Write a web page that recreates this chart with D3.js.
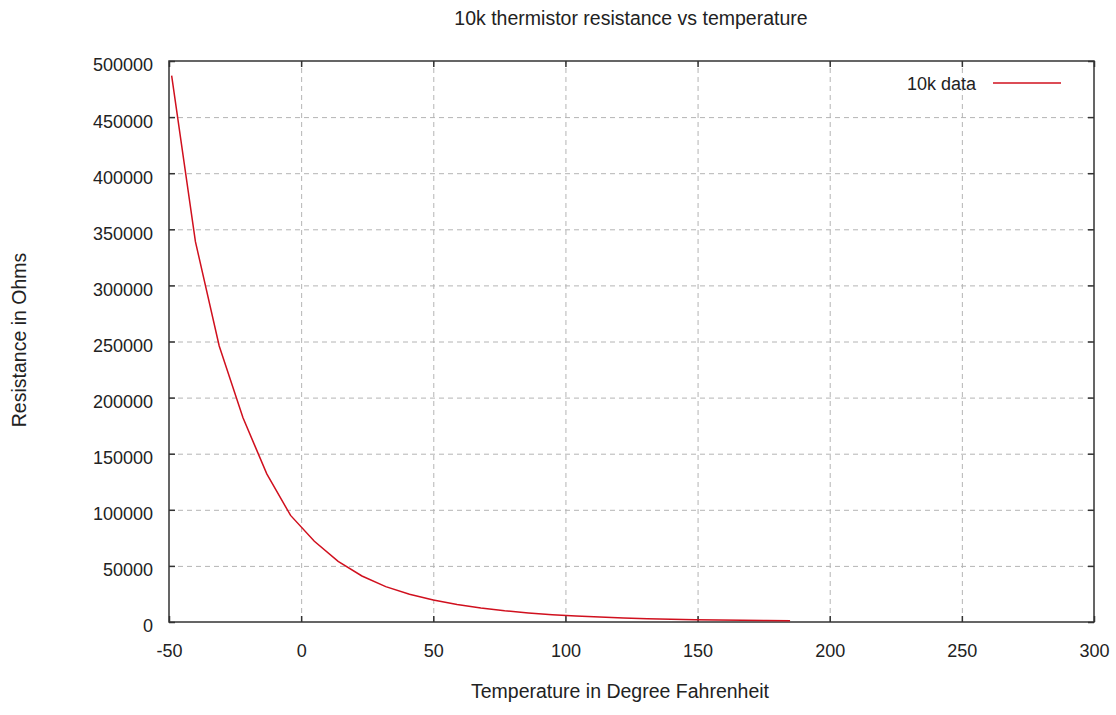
<!DOCTYPE html>
<html>
<head>
<meta charset="utf-8">
<script src="https://cdn.jsdelivr.net/npm/d3@7"></script>
<style>
  body { margin: 0; background: #fff; }
  text { font-family: "Liberation Sans", Arial, sans-serif; fill: #222; }
</style>
</head>
<body>
<div id="chart"></div>
<script>
// temperature points (deg F) and resistance
const tempF = [-49, -40, -31, -22, -13, -4, 5, 14, 23, 32, 41, 50, 59, 68, 77, 86, 95,
               104, 113, 122, 131, 140, 149, 158, 167, 176, 185];
const resistance = [487000, 339000, 246000, 182000, 132000, 95000, 72000, 54000, 41000,
                    31500, 24800, 19600, 15500, 12400, 10000, 8100, 6500, 5300, 4400,
                    3600, 3000, 2500, 2100, 1750, 1500, 1250, 1100];
const xTicks = [-50, 0, 50, 100, 150, 200, 250, 300];
const yTicks = [0, 50000, 100000, 150000, 200000, 250000, 300000, 350000, 400000, 450000, 500000];

const titleText = "10k thermistor resistance vs temperature";
const xLabel = "Temperature in Degree Fahrenheit";
const yLabel = "Resistance in Ohms";
const seriesName = "10k data";

const W = 1116, H = 715;
const margin = {top: 61, right: 22, bottom: 93, left: 169};
const width = W - margin.left - margin.right,
      height = H - margin.top - margin.bottom;

const data = tempF.map(function(t, i) { return {t: t, r: resistance[i]}; });

// plain hyphen for negatives, like gnuplot
const fmt = function(d) { return String(d); };

const svg = d3.select("#chart")
  .append("svg")
  .attr("width", W)
  .attr("height", H);

const g = svg.append("g")
  .attr("transform", `translate(${margin.left}, ${margin.top})`);

const x = d3.scaleLinear()
  .domain([-50, 300])
  .range([0, width]);

const y = d3.scaleLinear()
  .domain([0, 500000])
  .range([height, 0]);

// dashed grid
g.append("g")
  .attr("class", "grid")
  .attr("transform", `translate(0, ${height})`)
  .call(d3.axisBottom(x).tickValues(xTicks.slice(1, -1)).tickSize(-height).tickFormat(""))
  .call(function(s) { s.select(".domain").remove(); });

g.append("g")
  .attr("class", "grid")
  .call(d3.axisLeft(y).tickValues(yTicks.slice(1, -1)).tickSize(-width).tickFormat(""))
  .call(function(s) { s.select(".domain").remove(); });

g.selectAll(".grid line")
  .attr("stroke", "#b4b4b4")
  .attr("stroke-width", 1)
  .attr("stroke-dasharray", "5,4");

// ticks, inward on all four sides
const tickLen = 6;
const axisStyle = function(s) {
  s.select(".domain").remove();
  s.selectAll("line").attr("stroke", "#333").attr("stroke-width", 1.5);
  s.selectAll("text").style("font-size", "18px").attr("fill", "#222");
};

g.append("g")
  .attr("transform", `translate(0, ${height})`)
  .call(d3.axisBottom(x).tickValues(xTicks).tickSize(-tickLen).tickPadding(22).tickFormat(fmt))
  .call(axisStyle);

g.append("g")
  .call(d3.axisTop(x).tickValues(xTicks).tickSize(-tickLen).tickFormat(""))
  .call(axisStyle);

g.append("g")
  .call(d3.axisLeft(y).tickValues(yTicks).tickSize(-tickLen).tickPadding(16).tickFormat(fmt))
  .call(axisStyle)
  .selectAll("text").attr("dy", "0.55em");

g.append("g")
  .attr("transform", `translate(${width}, 0)`)
  .call(d3.axisRight(y).tickValues(yTicks).tickSize(-tickLen).tickFormat(""))
  .call(axisStyle);

// border
g.append("rect")
  .attr("width", width)
  .attr("height", height)
  .attr("fill", "none")
  .attr("stroke", "#333")
  .attr("stroke-width", 1.5);

// the curve
const line = d3.line()
  .x(function(d) { return x(d.t); })
  .y(function(d) { return y(d.r); });

g.append("path")
  .datum(data)
  .attr("fill", "none")
  .attr("stroke", "#d0101e")
  .attr("stroke-width", 1.5)
  .attr("d", line);

// legend
g.append("text")
  .attr("x", 807)
  .attr("y", 29)
  .attr("text-anchor", "end")
  .style("font-size", "18px")
  .text(seriesName);

g.append("line")
  .attr("x1", 824).attr("x2", 892)
  .attr("y1", 22).attr("y2", 22)
  .attr("stroke", "#d0101e")
  .attr("stroke-width", 1.5);

// titles
svg.append("text")
  .attr("x", 631)
  .attr("y", 25)
  .attr("text-anchor", "middle")
  .style("font-size", "19.5px")
  .text(titleText);

svg.append("text")
  .attr("x", 620)
  .attr("y", 698)
  .attr("text-anchor", "middle")
  .style("font-size", "19.5px")
  .text(xLabel);

svg.append("text")
  .attr("transform", "translate(26, 340) rotate(-90)")
  .attr("text-anchor", "middle")
  .style("font-size", "19.5px")
  .text(yLabel);
</script>
</body>
</html>
